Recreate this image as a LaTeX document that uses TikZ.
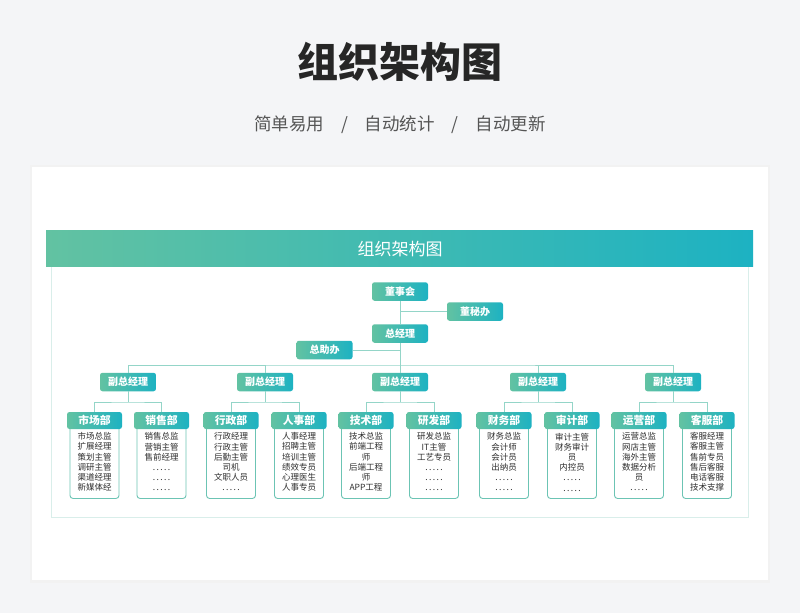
\documentclass[tikz,border=0pt]{standalone}
\usepackage{fontspec}
\setmainfont{Noto Sans CJK SC}
\definecolor{pagebg}{HTML}{F4F5F7}
\definecolor{tealL}{HTML}{62C2A2}
\definecolor{tealR}{HTML}{1DB2C2}
\definecolor{linkc}{HTML}{94D5C8}
\definecolor{bodyline}{HTML}{6CC4B4}
\definecolor{framec}{HTML}{D9EEEA}
\definecolor{textdark}{HTML}{2E2E2E}
\definecolor{subgray}{HTML}{555555}
\newcommand{\dotrow}{.\,.\,.\,.\,.}
\begin{document}
\begin{tikzpicture}[x=1pt, y=1pt,
    topbox/.style={shape=rectangle, rounded corners=2.5pt, left color=tealL, right color=tealR, text=white, font=\fontsize{10}{12}\selectfont\bfseries, minimum width=56pt, minimum height=18.5pt, inner sep=0pt},
    depthead/.style={topbox, minimum width=55pt, minimum height=17pt, font=\fontsize{10.8}{12}\selectfont\bfseries},
    deptbody/.style={draw=bodyline, line width=0.9pt, fill=white, rounded corners=3pt, anchor=north, text width=46pt, align=center, minimum height=73pt, inner sep=1.5pt, text=textdark, font=\fontsize{8.5}{10.2}\selectfont},
    link/.style={draw=linkc, line width=1pt}]

    \useasboundingbox (0,0) rectangle (800,-613);
    \fill[pagebg] (0,0) rectangle (800,-613);

    \node at (400, -62) (title) [font=\fontsize{41}{45}\selectfont\bfseries, text=black!85] {组织架构图};
    \node at (400, -125) (subtitle) [font=\fontsize{17.5}{20}\selectfont, text=subgray] {简单易用\hspace{17pt}/\hspace{17pt}自动统计\hspace{17pt}/\hspace{17pt}自动更新};

    \fill[black!5] (30,-165) rectangle (770,-583);
    \fill[white] (32,-167) rectangle (768,-580);
    \draw[framec, line width=0.8pt] (51,-262) rectangle (748,-517);
    \shade[left color=tealL, right color=tealR] (46,-230) rectangle (753,-266);
    \node at (400, -249) (band) [text=white, font=\fontsize{17}{20}\selectfont] {组织架构图};

    \node at (400, -291.5) (board) [topbox] {董事会};
    \node at (475, -311.5) (sec) [topbox] {董秘办};
    \node at (400, -333.5) (gm) [topbox] {总经理};
    \node at (324.5, -350) (asst) [topbox] {总助办};
    \coordinate (bar) at (400, -365);

    \node at (128, -382) (vp1) [topbox] {副总经理};
    \node at (265, -382) (vp2) [topbox] {副总经理};
    \node at (400, -382) (vp3) [topbox] {副总经理};
    \node at (538, -382) (vp4) [topbox] {副总经理};
    \node at (673, -382) (vp5) [topbox] {副总经理};

    \coordinate (fk1) at (128, -402);
    \coordinate (fk2) at (265, -402);
    \coordinate (fk3) at (400, -402);
    \coordinate (fk4) at (538, -402);
    \coordinate (fk5) at (673, -402);

    \node at (94.5, -425) (mktb) [deptbody] {市场总监\\扩展经理\\策划主管\\调研主管\\渠道经理\\新媒体经};
    \node at (161.5, -425) (salb) [deptbody] {销售总监\\营销主管\\售前经理\\\dotrow\\\dotrow\\\dotrow};
    \node at (231, -425) (admb) [deptbody] {行政经理\\行政主管\\后勤主管\\司机\\文职人员\\\dotrow};
    \node at (299, -425) (hrb) [deptbody] {人事经理\\招聘主管\\培训主管\\绩效专员\\心理医生\\人事专员};
    \node at (366, -425) (tecb) [deptbody] {技术总监\\前端工程\\师\\后端工程\\师\\APP工程};
    \node at (434, -425) (rndb) [deptbody] {研发总监\\IT主管\\工艺专员\\\dotrow\\\dotrow\\\dotrow};
    \node at (504, -425) (finb) [deptbody] {财务总监\\会计师\\会计员\\出纳员\\\dotrow\\\dotrow};
    \node at (572, -425) (audb) [deptbody] {审计主管\\财务审计\\员\\内控员\\\dotrow\\\dotrow};
    \node at (639, -425) (opsb) [deptbody] {运营总监\\网店主管\\海外主管\\数据分析\\员\\\dotrow};
    \node at (707, -425) (csb) [deptbody] {客服经理\\客服主管\\售前专员\\售后客服\\电话客服\\技术支撑};

    \node at (94.5, -420.5) (mkt) [depthead] {市场部};
    \node at (161.5, -420.5) (sal) [depthead] {销售部};
    \node at (231, -420.5) (adm) [depthead] {行政部};
    \node at (299, -420.5) (hr) [depthead] {人事部};
    \node at (366, -420.5) (tec) [depthead] {技术部};
    \node at (434, -420.5) (rnd) [depthead] {研发部};
    \node at (504, -420.5) (fin) [depthead] {财务部};
    \node at (572, -420.5) (aud) [depthead] {审计部};
    \node at (639, -420.5) (ops) [depthead] {运营部};
    \node at (707, -420.5) (cs) [depthead] {客服部};

    \path[link] (board) -- (gm);
    \path[link] (sec) -- (sec -| board);
    \path[link] (asst) -- (asst -| gm);
    \path[link] (gm) -- (bar);
    \path[link] (vp1) |- (bar) -| (vp5);
    \foreach \i in {2,3,4}
        \path[link] (vp\i) -- (vp\i |- bar);

    \foreach \i/\a/\b in {1/mkt/sal, 2/adm/hr, 3/tec/rnd, 4/fin/aud, 5/ops/cs} {
        \path[link] (vp\i) -- (fk\i);
        \path[link] (\a) |- (fk\i) -| (\b);
    }

\end{tikzpicture}
\end{document}
